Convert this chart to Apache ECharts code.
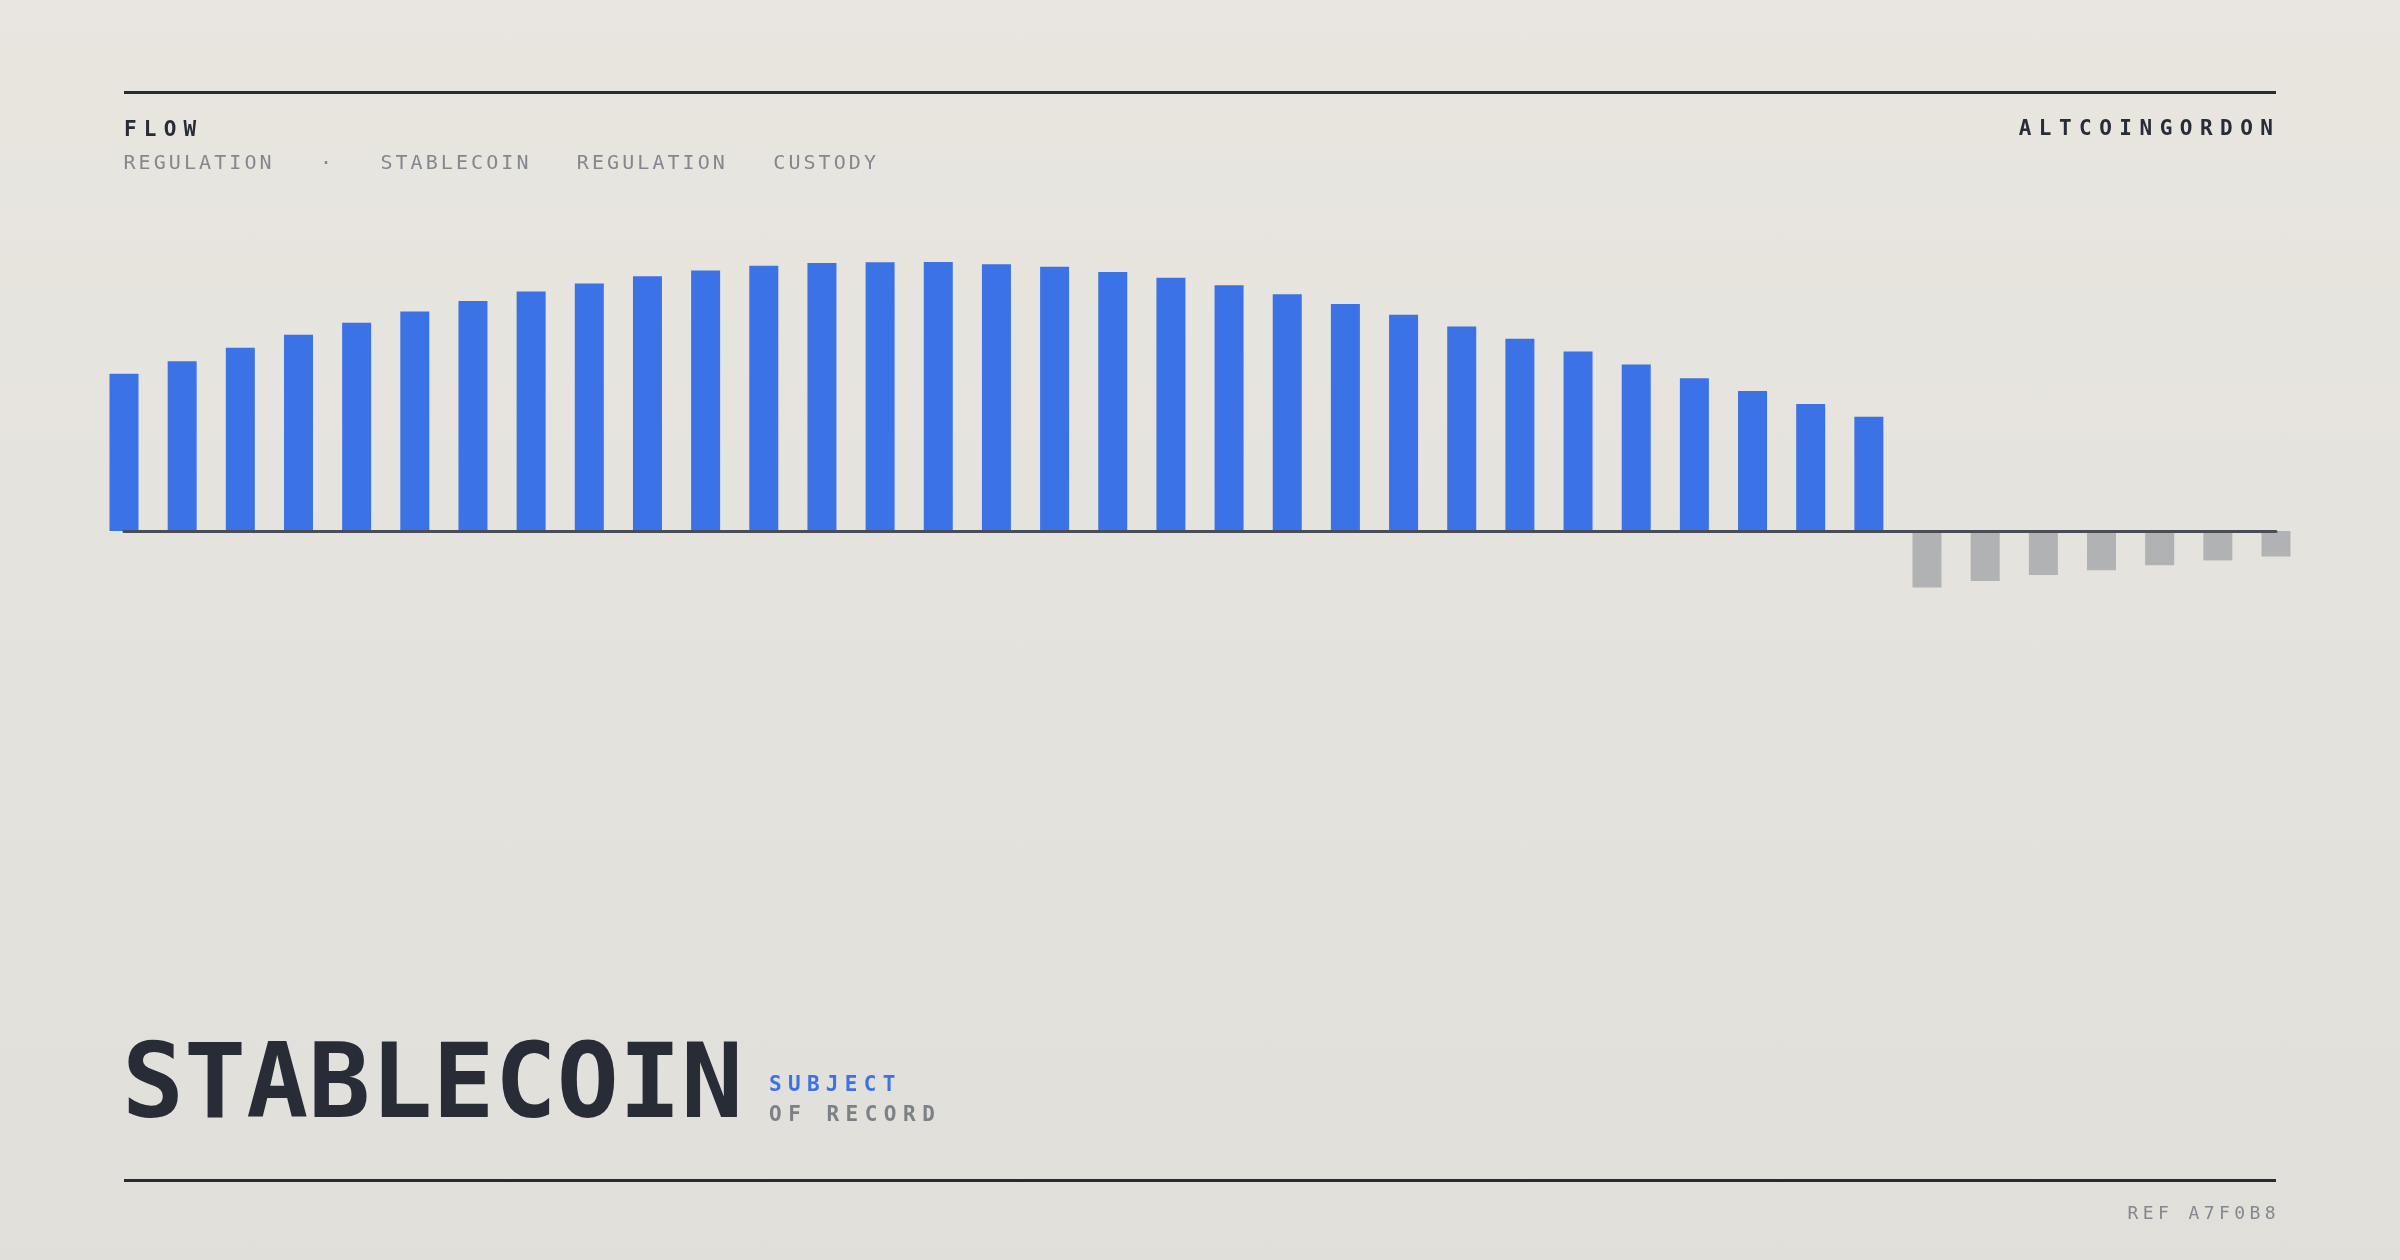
<!DOCTYPE html>
<html>
<head>
<meta charset="utf-8">
<script src="https://cdn.jsdelivr.net/npm/echarts@6/dist/echarts.min.js"></script>
<style>
  html, body { margin: 0; padding: 0; width: 2400px; height: 1260px; overflow: hidden; }
  body { background: linear-gradient(180deg, #e9e6e0 0%, #e0dfda 100%); font-family: "DejaVu Sans Mono", "Liberation Mono", monospace; }
  #chart { position: absolute; left: 0; top: 0; width: 2400px; height: 1260px; }
  .t { position: absolute; white-space: pre; line-height: 1; z-index: 2; }
</style>
</head>
<body>
<div id="chart"></div>
<div id="kicker" class="t"></div>
<div id="tags" class="t"></div>
<div id="brand" class="t"></div>
<div id="headline" class="t"></div>
<div id="sub1" class="t"></div>
<div id="sub2" class="t"></div>
<div id="ref" class="t"></div>
<script>
// ---- data ----
const categories = ['P01','P02','P03','P04','P05','P06','P07','P08','P09','P10',
  'P11','P12','P13','P14','P15','P16','P17','P18','P19','P20',
  'P21','P22','P23','P24','P25','P26','P27','P28','P29','P30',
  'P31','P32','P33','P34','P35','P36','P37','P38'];
const flowValues = [52.4, 56.6, 61.1, 65.4, 69.4, 73.2, 76.7, 79.8, 82.5, 84.9,
  86.8, 88.4, 89.3, 89.6, 89.7, 88.9, 88.1, 86.3, 84.4, 81.9,
  78.9, 75.7, 72.1, 68.2, 64.1, 59.8, 55.5, 50.9, 46.7, 42.3,
  38.1, -18.8, -16.7, -14.7, -13.1, -11.4, -9.8, -8.5];
const kickerText = 'FLOW';
const tagList = ['REGULATION', '·', 'STABLECOIN', 'REGULATION', 'CUSTODY'];
const brandText = 'ALTCOINGORDON';
const headlineText = 'STABLECOIN';
const subLine1 = 'SUBJECT';
const subLine2 = 'OF RECORD';
const refText = 'REF A7F0B8';

// ---- styles ----
const INK = '#282c37';
const BLUE = '#3b72e6';
const GRAY_BAR = '#b1b2b4';
const MUTED = '#85878e';

function setText(id, text, css) {
  const el = document.getElementById(id);
  el.textContent = text;
  Object.assign(el.style, css);
}
setText('kicker', kickerText, { left: '124px', top: '118.5px', fontSize: '21px', fontWeight: 'bold', letterSpacing: '7.2px', color: INK });
setText('tags', tagList.join('   '), { left: '123.5px', top: '151.5px', fontSize: '20px', letterSpacing: '3.07px', color: MUTED });
setText('brand', brandText, { right: '127px', top: '118px', fontSize: '21px', fontWeight: 'bold', letterSpacing: '7.5px', marginRight: '-7.5px', color: INK });
setText('headline', headlineText, { left: '122px', top: '1030px', fontSize: '103px', fontWeight: 'bold', letterSpacing: '0.1px', color: INK });
setText('sub1', subLine1, { left: '769px', top: '1073.5px', fontSize: '21px', fontWeight: 'bold', letterSpacing: '6.3px', color: BLUE });
setText('sub2', subLine2, { left: '769px', top: '1104px', fontSize: '21px', fontWeight: 'bold', letterSpacing: '6.5px', color: '#7e8088' });
setText('ref', refText, { right: '124.5px', top: '1204px', fontSize: '18px', letterSpacing: '4.4px', marginRight: '-4.4px', color: MUTED });

// ---- chart ----
const chart = echarts.init(document.getElementById('chart'), null, { renderer: 'canvas' });
chart.setOption({
  backgroundColor: 'transparent',
  animation: false,
  grid: { left: 124, right: 124, top: 231, bottom: 429, containLabel: false },
  xAxis: {
    type: 'category',
    data: categories,
    boundaryGap: false,
    z: 5,
    axisLine: { show: true, onZero: true, lineStyle: { color: '#4a4d55', width: 3 } },
    axisTick: { show: false },
    axisLabel: { show: false },
    splitLine: { show: false }
  },
  yAxis: {
    type: 'value',
    min: -100,
    max: 100,
    show: false,
    splitLine: { show: false }
  },
  series: [{
    type: 'bar',
    data: flowValues,
    barWidth: 29,
    clip: false,
    itemStyle: {
      color: function (p) { return p.value >= 0 ? BLUE : GRAY_BAR; }
    }
  }],
  graphic: [
    { type: 'rect', left: 124, top: 91, shape: { width: 2152, height: 3 }, style: { fill: INK }, silent: true },
    { type: 'rect', left: 124, top: 1179, shape: { width: 2152, height: 3 }, style: { fill: INK }, silent: true }
  ]
});
</script>
</body>
</html>
